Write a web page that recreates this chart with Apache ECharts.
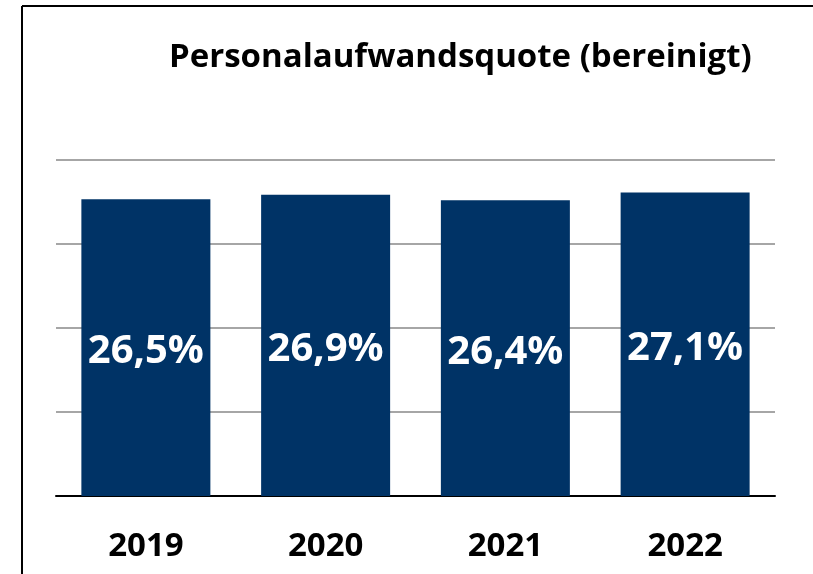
<!DOCTYPE html>
<html>
<head>
<meta charset="utf-8">
<title>Personalaufwandsquote (bereinigt)</title>
<script src="https://cdn.jsdelivr.net/npm/echarts@6/dist/echarts.min.js"></script>
<style>
  html, body { margin: 0; padding: 0; background: #fff; overflow: hidden; }
  #chart { width: 813px; height: 574px; }
</style>
</head>
<body>
<div id="chart"></div>
<script>
var years = ['2019', '2020', '2021', '2022'];
var quote = [26.5, 26.9, 26.4, 27.1];
var axisMin = 0;
var axisMax = 30;
var axisStep = 7.5;

var barColor = '#003366';
var font = '"Open Sans", "Noto Sans", sans-serif';

var chart = echarts.init(document.getElementById('chart'), null, { renderer: 'canvas' });
chart.setOption({
  animation: false,
  backgroundColor: '#fff',
  title: {
    text: 'Personalaufwandsquote (bereinigt)',
    left: 164, top: 36,
    textStyle: { fontFamily: font, fontSize: 33, fontWeight: 'bold', color: '#000' }
  },
  // frame: only top and left edges are visible in the picture
  graphic: [
    { type: 'line', silent: true, shape: { x1: 22, y1: 6, x2: 813, y2: 6 }, style: { stroke: '#000', lineWidth: 2 } },
    { type: 'line', silent: true, shape: { x1: 22, y1: 6, x2: 22, y2: 574 }, style: { stroke: '#000', lineWidth: 2 } }
  ],
  grid: { left: 56, right: 38, top: 160, bottom: 78 },
  xAxis: {
    type: 'category', data: years,
    axisLine: { lineStyle: { color: '#000', width: 2 } },
    axisTick: { show: false },
    axisLabel: { color: '#000', fontFamily: font, fontSize: 33, fontWeight: 'bold', margin: 34 }
  },
  yAxis: {
    type: 'value', min: axisMin, max: axisMax, interval: axisStep,
    axisLine: { show: false }, axisTick: { show: false }, axisLabel: { show: false },
    splitLine: { lineStyle: { color: '#a6a6a6', width: 2 } }
  },
  series: [{
    type: 'bar', data: quote, barWidth: 129,
    itemStyle: { color: barColor },
    label: {
      show: true, position: 'inside', offset: [0, 4],
      color: '#fff', fontFamily: font, fontSize: 40, fontWeight: 'bold',
      formatter: function(p) { return p.value.toFixed(1).replace('.', ',') + '%'; }
    }
  }]
});
</script>
</body>
</html>
